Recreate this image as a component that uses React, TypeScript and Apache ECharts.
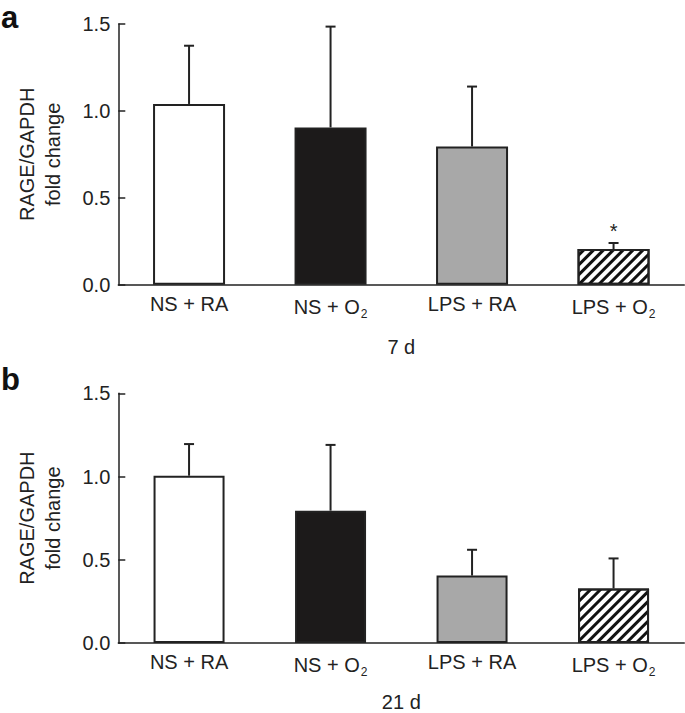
import React, { useEffect, useRef } from "react";
import * as echarts from "echarts";

const categories = ["NS + RA", "NS + O2", "LPS + RA", "LPS + O2"];
const meansA = [1.04, 0.905, 0.795, 0.205];
const errTopA = [1.375, 1.485, 1.14, 0.24];
const sigA = ["", "", "", "*"];
const meansB = [1.005, 0.795, 0.405, 0.328];
const errTopB = [1.195, 1.19, 0.56, 0.508];
const sigB = ["", "", "", ""];
const yTicks = [0, 0.5, 1.0, 1.5];
const panelTitles = ["7 d", "21 d"];
const panelLetters = ["a", "b"];

const FONT = "'Liberation Sans', Arial, Helvetica, sans-serif";
const INK = "#222";

const hatch = {
  symbol: "rect",
  symbolSize: 1,
  dashArrayX: [1, 0],
  dashArrayY: [3, 4],
  rotation: -Math.PI / 4,
  color: "#111",
  backgroundColor: "#fff",
};

const barStyles = [
  { color: "#ffffff" },
  { color: "#1c1a1a" },
  { color: "#a8a8a8" },
  { color: "#ffffff", decal: hatch },
];

function barData(means: number[]) {
  return means.map((v, i) => ({
    value: v,
    itemStyle: { ...barStyles[i], borderColor: INK, borderWidth: 2 },
  }));
}

function errData(means: number[], tops: number[], sig: string[]) {
  return means.map((m, i) => [i, m, tops[i], sig[i]]);
}

function makeRender(sig: string[]) {
  return function renderErr(params: any, api: any) {
    const x = api.value(0);
    const m = api.value(1);
    const t = api.value(2);
    const s = sig[params.dataIndex];
    const p1 = api.coord([x, m]);
    const p2 = api.coord([x, t]);
    const children: any[] = [
      {
        type: "line",
        shape: { x1: p1[0], y1: p1[1], x2: p2[0], y2: p2[1] },
        style: { stroke: INK, lineWidth: 2 },
      },
      {
        type: "line",
        shape: { x1: p2[0] - 5, y1: p2[1], x2: p2[0] + 5, y2: p2[1] },
        style: { stroke: INK, lineWidth: 2 },
      },
    ];
    if (s) {
      children.push({
        type: "text",
        style: {
          text: s,
          x: p2[0],
          y: p2[1] - 2,
          textAlign: "center",
          textVerticalAlign: "bottom",
          fontSize: 20,
          fontFamily: FONT,
          fill: INK,
        },
      });
    }
    return { type: "group", children };
  };
}

export default function App() {
  const ref = useRef<HTMLDivElement>(null);
  useEffect(() => {
    if (!ref.current) return;
    const chart = echarts.init(ref.current, null, { renderer: "svg" });
    const grids = [
      { left: 118.3, top: 24, width: 566, height: 260.7 },
      { left: 118.3, top: 393.3, width: 566, height: 251.4 },
    ];
    const xAxes = [0, 1].map((g) => ({
      type: "category",
      gridIndex: g,
      data: categories,
      name: panelTitles[g],
      nameLocation: "middle",
      nameGap: g === 0 ? 52 : 49,
      nameTextStyle: { fontSize: 20, fontFamily: FONT, color: INK },
      axisLine: { lineStyle: { color: INK, width: 1.5 } },
      axisTick: { show: false },
      axisLabel: {
        interval: 0,
        margin: 9,
        fontSize: 20,
        fontFamily: FONT,
        color: INK,
        formatter: (v: string) => v.replace(/O2$/, "O{sub|2}"),
        rich: {
          sub: { fontSize: 12, fontFamily: FONT, color: INK, padding: [14, 0, 0, 1] },
        },
      },
    }));
    const yAxes = [0, 1].map((g) => ({
      type: "value",
      gridIndex: g,
      min: yTicks[0],
      max: yTicks[yTicks.length - 1],
      interval: 0.5,
      name: "RAGE/GAPDH\nfold change",
      nameLocation: "middle",
      nameGap: 52,
      nameRotate: 90,
      nameTextStyle: { fontSize: 20, fontFamily: FONT, color: INK, lineHeight: 26 },
      axisLine: { show: true, lineStyle: { color: INK, width: 1.5 } },
      axisTick: { show: true, inside: true, length: 7, lineStyle: { color: INK, width: 1.5 } },
      splitLine: { show: false },
      axisLabel: {
        margin: 8,
        fontSize: 20,
        fontFamily: FONT,
        color: INK,
        formatter: (v: number) => v.toFixed(1),
      },
    }));
    chart.setOption({
      animation: false,
      backgroundColor: "#fff",
      grid: grids,
      xAxis: xAxes,
      yAxis: yAxes,
      graphic: panelLetters.map((l, i) => ({
        type: "text",
        left: 1,
        top: i === 0 ? 2 : 364,
        style: {
          text: l,
          fontSize: 31,
          fontWeight: "bold",
          fontFamily: FONT,
          fill: "#111",
        },
      })),
      series: [
        {
          type: "bar",
          xAxisIndex: 0,
          yAxisIndex: 0,
          barWidth: 72,
          data: barData(meansA),
        },
        {
          type: "custom",
          xAxisIndex: 0,
          yAxisIndex: 0,
          renderItem: makeRender(sigA),
          data: errData(meansA, errTopA, sigA),
          z: 5,
        },
        {
          type: "bar",
          xAxisIndex: 1,
          yAxisIndex: 1,
          barWidth: 71,
          data: barData(meansB),
        },
        {
          type: "custom",
          xAxisIndex: 1,
          yAxisIndex: 1,
          renderItem: makeRender(sigB),
          data: errData(meansB, errTopB, sigB),
          z: 5,
        },
      ],
    });
    return () => chart.dispose();
  }, []);
  return (
    <div
      ref={ref}
      style={{ position: "fixed", left: 0, top: 0, width: 685, height: 713, background: "#fff" }}
    />
  );
}
